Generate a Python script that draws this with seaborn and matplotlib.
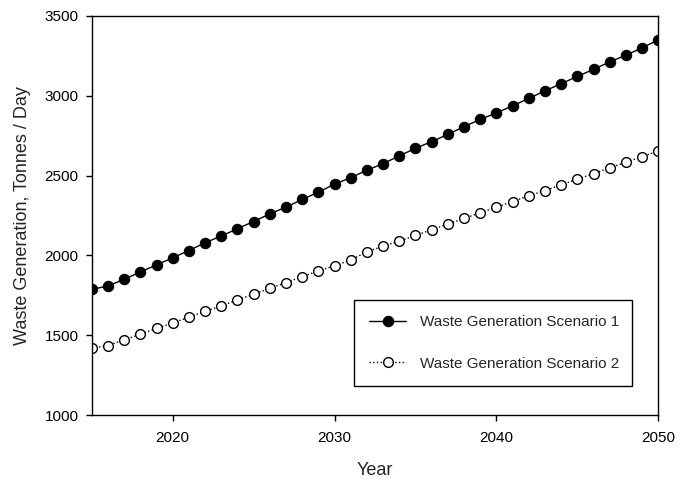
import matplotlib
matplotlib.use("Agg")
import matplotlib.pyplot as plt
import seaborn as sns
import pandas as pd

years = list(range(2015, 2051))
scenario1 = [1787, 1808, 1850, 1896, 1940, 1985, 2030, 2079, 2121, 2167, 2212, 2260,
             2302, 2350, 2396, 2446, 2487, 2533, 2575, 2623, 2671, 2712, 2758, 2806,
             2852, 2892, 2937, 2983, 3031, 3075, 3121, 3165, 3212, 3254, 3300, 3350]
scenario2 = [1419, 1435, 1471, 1506, 1542, 1577, 1612, 1650, 1683, 1721, 1756, 1794,
             1829, 1867, 1902, 1935, 1971, 2022, 2058, 2089, 2125, 2161, 2196, 2231,
             2267, 2302, 2337, 2373, 2406, 2442, 2477, 2512, 2548, 2583, 2619, 2652]
labels = ["Waste Generation Scenario 1", "Waste Generation Scenario 2"]
xticks = [2020, 2030, 2040, 2050]
yticks = [1000, 1500, 2000, 2500, 3000, 3500]

sns.set_style("ticks")
plt.rcParams['font.family'] = ['Liberation Sans', 'DejaVu Sans']

df = pd.DataFrame({"Year": years, "s1": scenario1, "s2": scenario2})

fig = plt.figure(figsize=(6.9, 4.82), dpi=100)
ax = fig.add_axes([0.133, 0.139, 0.821, 0.828])

sns.lineplot(data=df, x="Year", y="s1", ax=ax, color="black", linewidth=1.0,
             marker="o", markersize=7.5, markerfacecolor="black",
             markeredgecolor="black", label=labels[0])
sns.lineplot(data=df, x="Year", y="s2", ax=ax, color="black", linewidth=1.0,
             linestyle=":", marker="o", markersize=7, markerfacecolor="white",
             markeredgecolor="black", markeredgewidth=1.0, label=labels[1])

ax.set_xlim(2015, 2050)
ax.set_ylim(1000, 3500)
ax.set_xticks(xticks)
ax.set_yticks(yticks)
ax.tick_params(direction="out", length=4.5, width=1, colors="black", labelsize=11)
ax.tick_params(axis="x", pad=7)
ax.tick_params(axis="y", pad=5)
for sp in ax.spines.values():
    sp.set_visible(True)
    sp.set_color("black")
    sp.set_linewidth(1.0)

ax.set_xlabel("Year", fontsize=13, labelpad=12)
ax.set_ylabel("Waste Generation, Tonnes / Day", fontsize=13, labelpad=10)

leg = ax.legend(loc="lower left", bbox_to_anchor=(0.463, 0.073, 0.491, 0.21),
                mode="expand", fancybox=False, frameon=True, edgecolor="black",
                fontsize=11, handlelength=2.4, borderpad=1.0, labelspacing=1.8,
                handletextpad=0.9, borderaxespad=0)
leg.get_frame().set_linewidth(1.0)
leg.get_frame().set_alpha(1)

fig.savefig("out.png", dpi=100)
